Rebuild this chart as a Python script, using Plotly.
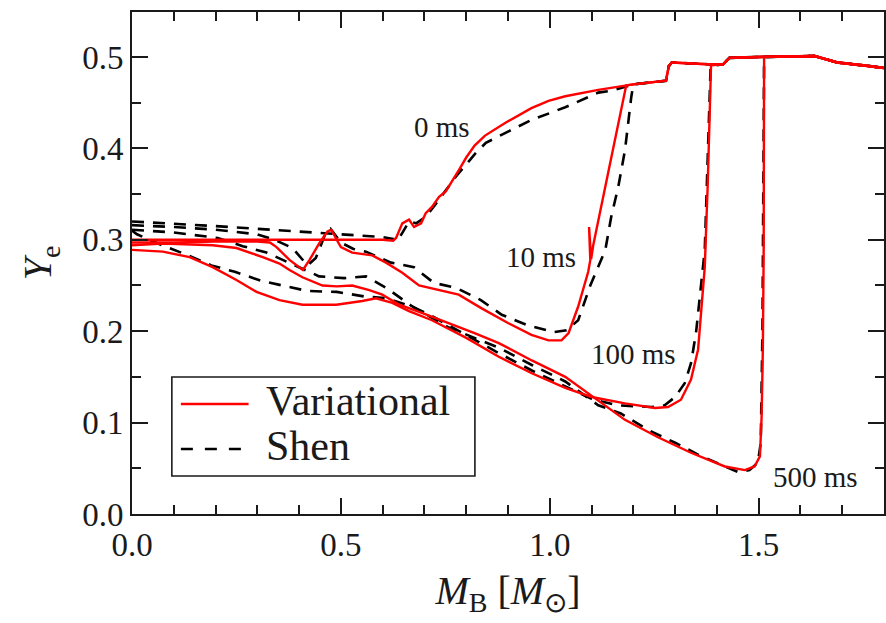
import plotly.graph_objects as go

# ---------------- data ----------------
ENV_X = [1.2, 1.278, 1.285, 1.292, 1.378, 1.415, 1.43, 1.5, 1.634, 1.688, 1.75, 1.8]
ENV_Y = [0.470, 0.474, 0.490, 0.494, 0.492, 0.492, 0.499, 0.500, 0.501, 0.494, 0.491, 0.488]

var0_x = [0, 0.1, 0.2, 0.3, 0.4, 0.5, 0.6, 0.625, 0.632, 0.647, 0.663, 0.675, 0.692, 0.703,
          0.718, 0.735, 0.751, 0.782, 0.8, 0.82, 0.845, 0.894, 0.956, 0.997, 1.037, 1.116, 1.183]
var0_y = [0.300, 0.300, 0.300, 0.300, 0.300, 0.300, 0.300, 0.299, 0.302, 0.318, 0.322, 0.314, 0.318, 0.329,
          0.336, 0.347, 0.353, 0.376, 0.390, 0.403, 0.414, 0.428, 0.444, 0.452, 0.457, 0.464, 0.469]

var10_x = [0, 0.1, 0.2, 0.3, 0.33, 0.346, 0.377, 0.409, 0.425, 0.448, 0.468, 0.477, 0.49, 0.5, 0.527,
           0.575, 0.608, 0.647, 0.687, 0.718, 0.782, 0.837, 0.9, 0.956, 0.997, 1.028, 1.045, 1.068,
           1.092, 1.097, 1.094, 1.099, 1.104, 1.14, 1.183]
var10_y = [0.297, 0.297, 0.298, 0.298, 0.297, 0.292, 0.278, 0.267, 0.278, 0.296, 0.309, 0.311, 0.300, 0.292, 0.286,
           0.283, 0.275, 0.264, 0.250, 0.247, 0.240, 0.225, 0.209, 0.196, 0.190, 0.190, 0.198, 0.227,
           0.265, 0.278, 0.314, 0.279, 0.294, 0.374, 0.469]

var100_x = [0, 0.074, 0.138, 0.193, 0.25, 0.298, 0.353, 0.408, 0.489, 0.551, 0.584, 0.623, 0.663,
            0.718, 0.799, 0.878, 0.957, 1.037, 1.1, 1.18, 1.252, 1.283, 1.314, 1.338, 1.355, 1.362,
            1.371, 1.378, 1.386]
var100_y = [0.289, 0.287, 0.281, 0.270, 0.256, 0.243, 0.234, 0.229, 0.229, 0.233, 0.236, 0.231, 0.222,
            0.212, 0.193, 0.172, 0.154, 0.138, 0.128, 0.121, 0.116, 0.117, 0.125, 0.147, 0.180, 0.216,
            0.270, 0.360, 0.491]

var500_x = [0, 0.074, 0.193, 0.25, 0.313, 0.353, 0.377, 0.408, 0.456, 0.49, 0.527, 0.568, 0.599, 0.64,
            0.70, 0.758, 0.82, 0.878, 0.957, 1.037, 1.1, 1.18, 1.259, 1.338, 1.419, 1.467, 1.49,
            1.503, 1.507, 1.51, 1.512, 1.513]
var500_y = [0.294, 0.296, 0.294, 0.291, 0.281, 0.274, 0.267, 0.259, 0.250, 0.249, 0.250, 0.245, 0.240, 0.229,
            0.219, 0.209, 0.198, 0.187, 0.168, 0.150, 0.129, 0.103, 0.084, 0.067, 0.052, 0.048, 0.052,
            0.063, 0.106, 0.180, 0.289, 0.500]

shen0_x = [0, 0.2, 0.4, 0.6, 0.625, 0.632, 0.645, 0.663, 0.68, 0.703, 0.735, 0.775, 0.823, 0.847,
           0.894, 0.956, 1.037, 1.116, 1.147]
shen0_y = [0.320, 0.315, 0.309, 0.303, 0.301, 0.298, 0.306, 0.320, 0.318, 0.325, 0.344, 0.369, 0.395, 0.406,
           0.417, 0.431, 0.445, 0.461, 0.463]

shen10_x = [0, 0.1, 0.2, 0.3, 0.341, 0.384, 0.42, 0.44, 0.465, 0.475, 0.5, 0.53, 0.56, 0.62, 0.675,
            0.722, 0.778, 0.835, 0.885, 0.944, 1.009, 1.04, 1.068, 1.097, 1.133, 1.147, 1.164, 1.18, 1.195]
shen10_y = [0.316, 0.314, 0.311, 0.306, 0.300, 0.291, 0.272, 0.280, 0.309, 0.312, 0.297, 0.290, 0.287, 0.275, 0.270,
            0.253, 0.247, 0.234, 0.218, 0.207, 0.199, 0.201, 0.212, 0.250, 0.289, 0.325, 0.358, 0.398, 0.456]

shen100_x = [0, 0.012, 0.072, 0.134, 0.19, 0.246, 0.31, 0.34, 0.42, 0.49, 0.556, 0.61, 0.67, 0.716,
             0.799, 0.878, 0.957, 1.037, 1.1, 1.16, 1.243, 1.275, 1.3, 1.323, 1.338, 1.35, 1.359, 1.371, 1.385]
shen100_y = [0.310, 0.306, 0.294, 0.283, 0.272, 0.265, 0.255, 0.252, 0.244, 0.243, 0.238, 0.236, 0.227, 0.217,
             0.196, 0.176, 0.157, 0.140, 0.126, 0.119, 0.117, 0.119, 0.128, 0.143, 0.165, 0.198, 0.234, 0.289, 0.490]

shen500_x = [0, 0.1, 0.205, 0.265, 0.322, 0.39, 0.448, 0.508, 0.56, 0.61, 0.668, 0.758, 0.878, 0.957,
             1.037, 1.116, 1.17, 1.235, 1.3, 1.355, 1.419, 1.45, 1.478, 1.498, 1.505, 1.509, 1.511, 1.513]
shen500_y = [0.311, 0.308, 0.302, 0.293, 0.286, 0.272, 0.260, 0.258, 0.260, 0.247, 0.228, 0.204, 0.182, 0.163,
             0.145, 0.119, 0.110, 0.092, 0.078, 0.065, 0.052, 0.046, 0.048, 0.056, 0.078, 0.200, 0.350, 0.500]

LABELS = ["0 ms", "10 ms", "100 ms", "500 ms"]
LABEL_X = [0.742, 0.978, 1.200, 1.636]
LABEL_Y = [0.423, 0.281, 0.175, 0.040]

X_TICKS = [0.0, 0.5, 1.0, 1.5]
Y_TICKS = [0.0, 0.1, 0.2, 0.3, 0.4, 0.5]

# ---------------- figure ----------------
RED = "#ff0000"
INK = "#1a1a1a"
FONT = "Liberation Serif"
DASH = "12px,9px"


def full(xs, ys):
    tx = [x for x in ENV_X if x > xs[-1] + 0.004]
    ty = [ENV_Y[i] for i, x in enumerate(ENV_X) if x > xs[-1] + 0.004]
    return list(xs) + tx, list(ys) + ty


fig = go.Figure()

variational = [(var0_x, var0_y), (var10_x, var10_y), (var100_x, var100_y), (var500_x, var500_y)]
shen = [(shen0_x, shen0_y), (shen10_x, shen10_y), (shen100_x, shen100_y), (shen500_x, shen500_y)]

for (xs, ys), lab in zip(shen, LABELS):
    fx, fy = full(xs, ys)
    fig.add_trace(go.Scatter(x=fx, y=fy, mode="lines", name="Shen " + lab,
                             line=dict(color="black", width=2.6, dash=DASH), showlegend=False))
for (xs, ys), lab in zip(variational, LABELS):
    fx, fy = full(xs, ys)
    fig.add_trace(go.Scatter(x=fx, y=fy, mode="lines", name="Variational " + lab,
                             line=dict(color=RED, width=2.4), showlegend=False))

for t, x, y in zip(LABELS, LABEL_X, LABEL_Y):
    fig.add_annotation(x=x, y=y, text=t, showarrow=False,
                       font=dict(family=FONT, size=29, color=INK), xanchor="center", yanchor="middle")

# legend drawn by hand (box, samples, text)
fig.add_shape(type="rect", xref="paper", yref="paper", x0=0.053, x1=0.456, y0=0.0757, y1=0.273,
              line=dict(color=INK, width=1.6), fillcolor="white", layer="above")
fig.add_shape(type="line", xref="paper", yref="paper", x0=0.065, x1=0.155, y0=0.219, y1=0.219,
              line=dict(color=RED, width=2.6), layer="above")
fig.add_shape(type="line", xref="paper", yref="paper", x0=0.065, x1=0.155, y0=0.1295, y1=0.1295,
              line=dict(color="black", width=2.6, dash="12px,12px"), layer="above")
fig.add_annotation(xref="paper", yref="paper", x=0.176, y=0.226, text="Variational", showarrow=False,
                   xanchor="left", yanchor="middle", font=dict(family=FONT, size=42, color=INK))
fig.add_annotation(xref="paper", yref="paper", x=0.176, y=0.135, text="Shen", showarrow=False,
                   xanchor="left", yanchor="middle", font=dict(family=FONT, size=42, color=INK))

axis_common = dict(
    showgrid=False, zeroline=False, showline=True, linecolor=INK, linewidth=2,
    mirror="ticks", ticks="inside", ticklen=16, tickwidth=1.6, tickcolor=INK,
    tickfont=dict(family=FONT, size=33, color=INK),
)

fig.update_xaxes(range=[0, 1.8], tickvals=X_TICKS, ticktext=[f"{v:.1f}" for v in X_TICKS],
                 minor=dict(dtick=0.1, tick0=0, ticks="inside", ticklen=9, tickwidth=1.6, tickcolor=INK),
                 title=dict(text="<i>M</i><sub>B</sub> [<i>M</i><sub>⊙</sub>]",
                            font=dict(family=FONT, size=40, color=INK), standoff=14),
                 **axis_common)
fig.update_yaxes(range=[0, 0.5492], tickvals=Y_TICKS, ticktext=[f"{v:.1f}" for v in Y_TICKS],
                 minor=dict(dtick=0.05, tick0=0, ticks="inside", ticklen=9, tickwidth=1.6, tickcolor=INK),
                 title=dict(text="<i>Y</i><sub>e</sub>",
                            font=dict(family=FONT, size=40, color=INK), standoff=18),
                 **axis_common)

fig.update_layout(width=886, height=623, margin=dict(l=132, r=0, t=12, b=109),
                  plot_bgcolor="white", paper_bgcolor="white", showlegend=False,
                  font=dict(family=FONT, color=INK))

fig.write_html("out.html")
